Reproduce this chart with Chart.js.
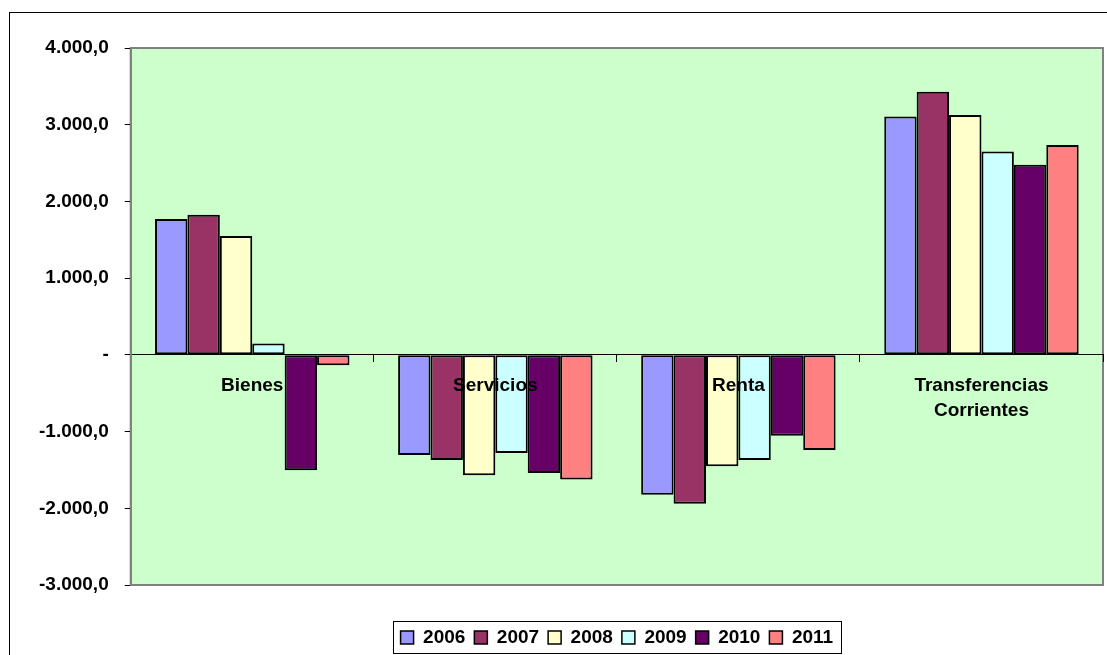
<!DOCTYPE html>
<html>
<head>
<meta charset="utf-8">
<script src="https://cdn.jsdelivr.net/npm/chart.js@4.4.1/dist/chart.umd.min.js"></script>
<style>
  html, body { margin: 0; padding: 0; background: #ffffff; }
  #c { display: block; }
</style>
</head>
<body>
<canvas id="c" width="1107" height="655"></canvas>
<script>
// ---- Data ----
const categories = ['Bienes', 'Servicios', 'Renta', ['Transferencias', 'Corrientes']];
const years = ['2006', '2007', '2008', '2009', '2010', '2011'];
const v2006 = [1771, -1305, -1825, 3106];
const v2007 = [1827, -1370, -1942, 3431];
const v2008 = [1550, -1569, -1452, 3128];
const v2009 = [148, -1279, -1370, 2650];
const v2010 = [-1504, -1539, -1053, 2477];
const v2011 = [-134, -1625, -1240, 2737];
const yMin = -3000, yMax = 4000, yStep = 1000;

// ---- Styles ----
const seriesValues = [v2006, v2007, v2008, v2009, v2010, v2011];
const colors = ['#9999FF', '#993366', '#FFFFCC', '#CCFFFF', '#660066', '#FF8080'];
const FONT = "'Liberation Sans', Arial, sans-serif";
const LEGEND_PAD = 9;

function fmtTick(v) {
  if (v === 0) return '-';
  const s = Math.abs(v).toString().replace(/\B(?=(\d{3})+(?!\d))/g, '.');
  return (v < 0 ? '-' : '') + s + ',0';
}

const decor = {
  id: 'decor',
  beforeDraw(chart) {
    const ctx = chart.ctx;
    const a = chart.chartArea;
    ctx.save();
    ctx.fillStyle = '#CCFFCC';
    ctx.fillRect(a.left, a.top, a.right - a.left, a.bottom - a.top);
    ctx.strokeStyle = '#808080';
    ctx.lineWidth = 2;
    ctx.strokeRect(a.left, a.top, a.right - a.left, a.bottom - a.top);
    // outer frame
    ctx.strokeStyle = '#000000';
    ctx.lineWidth = 1;
    ctx.strokeRect(9.5, 12.5, 1300, 900);
    ctx.restore();
  },
  afterUpdate(chart) {
    const lg = chart.legend;
    const a = chart.chartArea;
    const h = lg.bottom - lg.top;
    lg.left = a.left; lg.right = a.right;
    lg.bottom = 657; lg.top = 657 - h;
    // reset hitbox tops before re-adjusting (adjustHitBoxes adds to top)
    lg.legendHitBoxes.forEach(hb => { hb.top = 0; });
    lg.adjustHitBoxes();
  },
  afterDraw(chart) {
    const lg = chart.legend;
    const hb = lg.legendHitBoxes;
    if (!hb || !hb.length) return;
    const first = hb[0], last = hb[hb.length - 1];
    const ctx = chart.ctx;
    ctx.save();
    ctx.strokeStyle = '#000000';
    ctx.lineWidth = 1;
    const rowTop = lg.top + LEGEND_PAD;
    const l = Math.round(first.left - 8) + 0.5;
    const r = Math.round(last.left + last.width + 8) + 0.5;
    const t = Math.round(rowTop - 7) + 0.5;
    const b = Math.round(rowTop + first.height + 6) + 0.5;
    ctx.strokeRect(l, t, r - l, b - t);
    ctx.restore();
  }
};

new Chart(document.getElementById('c'), {
  type: 'bar',
  data: {
    labels: categories,
    datasets: years.map((y, i) => ({
      label: y,
      data: seriesValues[i],
      backgroundColor: colors[i],
      borderColor: '#000000',
      borderWidth: 2,
      borderSkipped: false,
      categoryPercentage: 0.8,
      barPercentage: 1.0
    }))
  },
  options: {
    responsive: false,
    animation: false,
    devicePixelRatio: 1,
    layout: { padding: { top: 48, left: 23, right: 4, bottom: 32 } },
    plugins: {
      legend: {
        position: 'bottom',
        labels: {
          color: '#000000',
          font: { family: FONT, size: 19, weight: 'bold' },
          boxWidth: 13,
          boxHeight: 13,
          padding: LEGEND_PAD,
          generateLabels(chart) {
            const items = Chart.defaults.plugins.legend.labels.generateLabels(chart);
            items.forEach(it => { it.lineWidth = 1.5; it.strokeStyle = '#000000'; });
            return items;
          }
        }
      },
      tooltip: { enabled: false },
      title: { display: false }
    },
    scales: {
      x: {
        position: { y: 0 },
        offset: true,
        grid: {
          offset: true,
          drawOnChartArea: false,
          drawTicks: true,
          tickLength: 7,
          color: '#000000'
        },
        border: { display: true, color: '#000000', width: 1 },
        ticks: {
          z: 1,
          color: '#000000',
          font: { family: FONT, size: 19, weight: 'bold', lineHeight: 1.3 },
          padding: 12,
          maxRotation: 0,
          autoSkip: false
        }
      },
      y: {
        min: yMin,
        max: yMax,
        grid: {
          drawOnChartArea: false,
          drawTicks: true,
          tickLength: 6,
          color: '#000000'
        },
        border: { display: true, color: '#808080', width: 2 },
        ticks: {
          stepSize: yStep,
          color: '#000000',
          font: { family: FONT, size: 19, weight: 'bold' },
          padding: 16,
          callback: (v) => fmtTick(v)
        }
      }
    }
  },
  plugins: [decor]
});
</script>
</body>
</html>
